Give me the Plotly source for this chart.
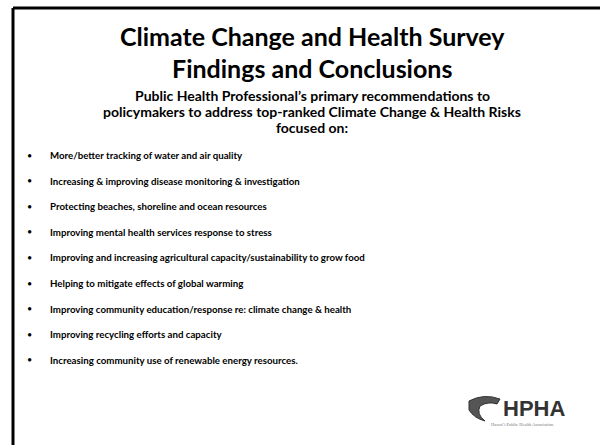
import plotly.graph_objects as go

title_lines = ["Climate Change and Health Survey", "Findings and Conclusions"]
subtitle_lines = [
    "Public Health Professional\u2019s primary recommendations to",
    "policymakers to address top-ranked Climate Change & Health Risks",
    "focused on:",
]
bullets = [
    "More/better tracking of water and air quality",
    "Increasing & improving disease monitoring & investigation",
    "Protecting beaches, shoreline and ocean resources",
    "Improving mental health services response to stress",
    "Improving and increasing agricultural capacity/sustainability to grow food",
    "Helping to mitigate effects of global warming",
    "Improving community education/response re: climate change & health",
    "Improving recycling efforts and capacity",
    "Increasing community use of renewable energy resources.",
]
logo_text = "HPHA"
logo_sub = "Hawai\u02bbi Public Health Association"

FONT = "Lato"
W, H = 600, 445

fig = go.Figure()
fig.update_layout(
    width=W, height=H, margin=dict(l=0, r=0, t=0, b=0),
    paper_bgcolor="white", plot_bgcolor="white", showlegend=False,
    xaxis=dict(range=[0, W], visible=False, fixedrange=True),
    yaxis=dict(range=[H, 0], visible=False, fixedrange=True),
)

# frame
fig.add_shape(type="line", x0=13, x1=W + 5, y0=8, y1=8, line=dict(color="black", width=3))
fig.add_shape(type="line", x0=13, x1=13, y0=8, y1=H + 5, line=dict(color="black", width=3))

# logo bird (approximate)
fig.add_shape(type="path",
              path="M 469 401 Q 484 393 500 399 L 497 404 Q 488 401 480 406 Q 476 414 485 421 Q 474 418 469 410 Z",
              fillcolor="#555555", line=dict(color="#333333", width=1))

ann = []
for i, t in enumerate(title_lines):
    ann.append(dict(x=312, y=36 + i * 32, text="<b>%s</b>" % t, showarrow=False,
                    font=dict(family=FONT, size=25, color="black"), xanchor="center", yanchor="middle"))
for i, t in enumerate(subtitle_lines):
    ann.append(dict(x=312, y=95 + i * 16, text="<b>%s</b>" % t, showarrow=False,
                    font=dict(family=FONT, size=14, color="black"), xanchor="center", yanchor="middle"))
for i, t in enumerate(bullets):
    y = 155 + i * 25.6
    ann.append(dict(x=25, y=y, text="\u2022", showarrow=False,
                    font=dict(family=FONT, size=9, color="black"), xanchor="left", yanchor="middle"))
    ann.append(dict(x=48, y=y, text="<b>%s</b>" % t, showarrow=False,
                    font=dict(family=FONT, size=9.7, color="black"), xanchor="left", yanchor="middle"))
ann.append(dict(x=534, y=408, text="<b>%s</b>" % logo_text, showarrow=False,
                font=dict(family="Liberation Sans", size=22, color="#333333"), xanchor="center", yanchor="middle"))
ann.append(dict(x=522, y=424, text=logo_sub, showarrow=False,
                font=dict(family="Liberation Serif", size=4.5, color="#777777"), xanchor="center", yanchor="middle"))
fig.update_layout(annotations=ann)

fig.write_html("out.html", config={"displayModeBar": False},
               post_script="document.body.style.margin='0';")
